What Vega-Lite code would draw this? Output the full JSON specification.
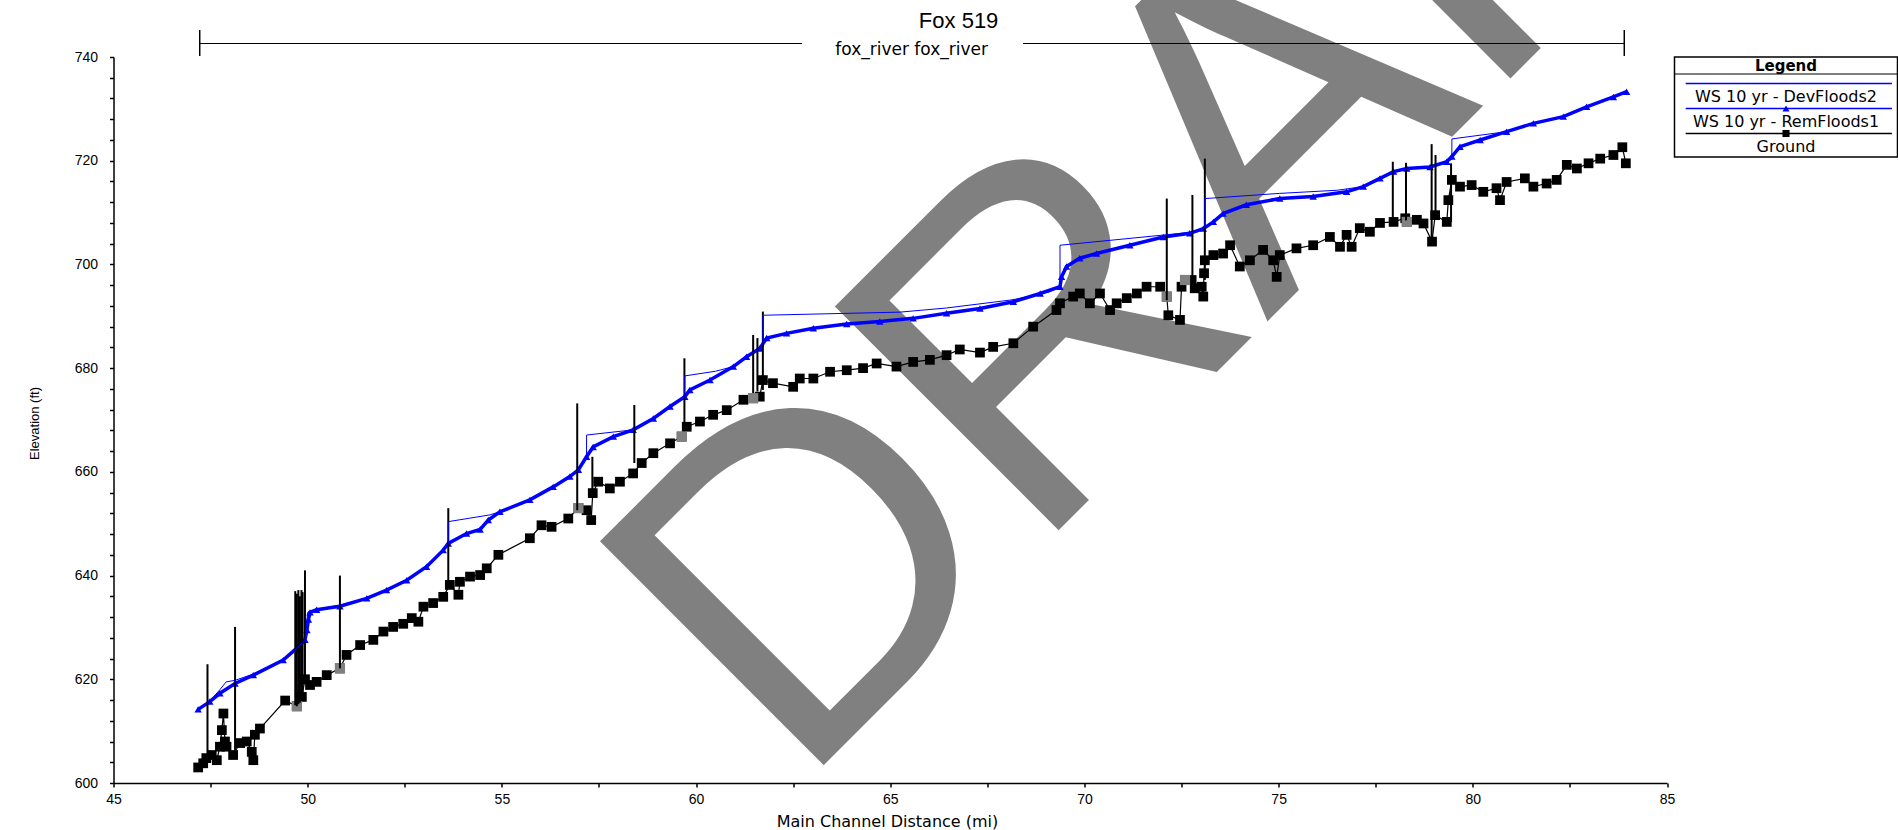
{
  "$schema": "https://vega.github.io/schema/vega-lite/v6.json",
  "autosize": {"type": "none"},
  "padding": {"left": 113.5, "top": 57, "right": 1784.5, "bottom": 773},
  "background": "white",
  "config": {"view": {"stroke": null}, "font": "Liberation Sans"},
  "spacing": 7,
  "bounds": "flush",
  "datasets": {
    "watermark": [{"mi": 62.6, "elev": 598.3, "label": "DRAFT"}],
    "titles": [
      {"mi": 66.76, "elev": 746.9, "label": "Fox 519", "kind": "title"},
      {"mi": 65.55, "elev": 741.4, "label": "fox_river fox_river", "kind": "reach"}
    ],
    "reachLine": [
      {"mi": 47.22, "mi2": 62.73, "elev": 742.6},
      {"mi": 68.42, "mi2": 83.9, "elev": 742.6}
    ],
    "reachEnds": [
      {"mi": 47.22, "elev": 740.2, "elev2": 745.2},
      {"mi": 83.9, "elev": 740.2, "elev2": 745.2}
    ],
    "structures": [
      {"mi": 47.42, "elev": 604.8, "elev2": 622.9},
      {"mi": 48.13, "elev": 605.4, "elev2": 630.1},
      {"mi": 49.68, "elev": 615.0, "elev2": 637.0},
      {"mi": 49.72, "elev": 614.8, "elev2": 636.5},
      {"mi": 49.76, "elev": 615.2, "elev2": 637.2},
      {"mi": 49.8, "elev": 615.5, "elev2": 636.0},
      {"mi": 49.84, "elev": 616.6, "elev2": 637.2},
      {"mi": 49.87, "elev": 617.5, "elev2": 636.8},
      {"mi": 49.93, "elev": 620.0, "elev2": 641.0},
      {"mi": 50.83, "elev": 622.1, "elev2": 640.0},
      {"mi": 53.62, "elev": 638.6, "elev2": 653.0},
      {"mi": 56.94, "elev": 652.6, "elev2": 673.2},
      {"mi": 57.33, "elev": 655.5, "elev2": 662.9},
      {"mi": 58.41, "elev": 661.7, "elev2": 672.9},
      {"mi": 59.7, "elev": 668.7, "elev2": 681.9},
      {"mi": 61.47, "elev": 675.2, "elev2": 686.4},
      {"mi": 61.58, "elev": 675.5, "elev2": 685.8},
      {"mi": 61.72, "elev": 675.8, "elev2": 690.9},
      {"mi": 72.12, "elev": 693.1, "elev2": 712.7},
      {"mi": 72.78, "elev": 697.0, "elev2": 713.4},
      {"mi": 73.1, "elev": 697.0, "elev2": 720.4},
      {"mi": 77.94, "elev": 708.6, "elev2": 719.8},
      {"mi": 78.28, "elev": 708.5, "elev2": 719.6},
      {"mi": 78.94, "elev": 704.4, "elev2": 723.2},
      {"mi": 79.04, "elev": 709.5, "elev2": 721.1},
      {"mi": 79.44, "elev": 708.2, "elev2": 719.5}
    ],
    "ground": [
      {"mi": 47.18, "elev": 603.0}, {"mi": 47.31, "elev": 603.8}, {"mi": 47.39, "elev": 604.8},
      {"mi": 47.53, "elev": 605.4}, {"mi": 47.66, "elev": 604.4}, {"mi": 47.74, "elev": 607.0},
      {"mi": 47.79, "elev": 610.2}, {"mi": 47.83, "elev": 613.4}, {"mi": 47.87, "elev": 608.0},
      {"mi": 47.91, "elev": 607.0}, {"mi": 48.08, "elev": 605.4}, {"mi": 48.26, "elev": 607.7},
      {"mi": 48.43, "elev": 608.0}, {"mi": 48.56, "elev": 606.0}, {"mi": 48.6, "elev": 604.4},
      {"mi": 48.64, "elev": 609.3}, {"mi": 48.77, "elev": 610.5}, {"mi": 49.42, "elev": 615.9},
      {"mi": 49.72, "elev": 614.8}, {"mi": 49.85, "elev": 616.6}, {"mi": 49.93, "elev": 620.0},
      {"mi": 50.06, "elev": 618.9}, {"mi": 50.23, "elev": 619.5}, {"mi": 50.49, "elev": 620.8},
      {"mi": 50.83, "elev": 622.1}, {"mi": 51.0, "elev": 624.7}, {"mi": 51.35, "elev": 626.6},
      {"mi": 51.69, "elev": 627.6}, {"mi": 51.95, "elev": 629.2}, {"mi": 52.2, "elev": 630.1},
      {"mi": 52.46, "elev": 630.7}, {"mi": 52.68, "elev": 631.8}, {"mi": 52.85, "elev": 631.1},
      {"mi": 52.98, "elev": 634.0}, {"mi": 53.23, "elev": 634.7}, {"mi": 53.49, "elev": 635.9},
      {"mi": 53.66, "elev": 638.2}, {"mi": 53.88, "elev": 636.3}, {"mi": 53.92, "elev": 638.8},
      {"mi": 54.18, "elev": 639.8}, {"mi": 54.44, "elev": 640.1}, {"mi": 54.61, "elev": 641.4},
      {"mi": 54.91, "elev": 644.0}, {"mi": 55.72, "elev": 647.2}, {"mi": 56.02, "elev": 649.7},
      {"mi": 56.28, "elev": 649.4}, {"mi": 56.71, "elev": 651.0}, {"mi": 56.97, "elev": 653.0},
      {"mi": 57.18, "elev": 652.6}, {"mi": 57.3, "elev": 650.7}, {"mi": 57.34, "elev": 655.9},
      {"mi": 57.48, "elev": 658.1}, {"mi": 57.78, "elev": 656.8}, {"mi": 58.04, "elev": 658.1},
      {"mi": 58.38, "elev": 659.7}, {"mi": 58.6, "elev": 661.7}, {"mi": 58.9, "elev": 663.6},
      {"mi": 59.33, "elev": 665.5}, {"mi": 59.63, "elev": 666.8}, {"mi": 59.76, "elev": 668.7},
      {"mi": 60.1, "elev": 669.7}, {"mi": 60.44, "elev": 671.0}, {"mi": 60.79, "elev": 671.9},
      {"mi": 61.22, "elev": 673.9}, {"mi": 61.47, "elev": 674.2}, {"mi": 61.64, "elev": 674.5},
      {"mi": 61.72, "elev": 677.7}, {"mi": 61.98, "elev": 677.1}, {"mi": 62.5, "elev": 676.4},
      {"mi": 62.67, "elev": 678.0}, {"mi": 63.02, "elev": 678.0}, {"mi": 63.45, "elev": 679.3},
      {"mi": 63.88, "elev": 679.6}, {"mi": 64.3, "elev": 680.0}, {"mi": 64.65, "elev": 680.9},
      {"mi": 65.16, "elev": 680.3}, {"mi": 65.59, "elev": 681.2}, {"mi": 66.02, "elev": 681.6},
      {"mi": 66.45, "elev": 682.5}, {"mi": 66.79, "elev": 683.6}, {"mi": 67.31, "elev": 683.0},
      {"mi": 67.65, "elev": 684.1}, {"mi": 68.17, "elev": 684.8}, {"mi": 68.68, "elev": 688.0},
      {"mi": 69.28, "elev": 691.2}, {"mi": 69.37, "elev": 692.5}, {"mi": 69.71, "elev": 693.8},
      {"mi": 69.88, "elev": 694.4}, {"mi": 70.14, "elev": 692.5}, {"mi": 70.4, "elev": 694.4},
      {"mi": 70.66, "elev": 691.2}, {"mi": 70.83, "elev": 692.5}, {"mi": 71.09, "elev": 693.5},
      {"mi": 71.35, "elev": 694.4}, {"mi": 71.6, "elev": 695.7}, {"mi": 71.95, "elev": 695.7},
      {"mi": 72.12, "elev": 693.8}, {"mi": 72.16, "elev": 690.2}, {"mi": 72.46, "elev": 689.3},
      {"mi": 72.5, "elev": 695.7}, {"mi": 72.59, "elev": 697.0}, {"mi": 72.76, "elev": 697.0},
      {"mi": 72.84, "elev": 695.4}, {"mi": 73.02, "elev": 695.7}, {"mi": 73.06, "elev": 693.8},
      {"mi": 73.08, "elev": 698.3}, {"mi": 73.1, "elev": 700.8}, {"mi": 73.32, "elev": 701.8},
      {"mi": 73.57, "elev": 702.1}, {"mi": 73.75, "elev": 703.7}, {"mi": 74.0, "elev": 699.6},
      {"mi": 74.26, "elev": 700.8}, {"mi": 74.6, "elev": 702.8}, {"mi": 74.86, "elev": 700.8},
      {"mi": 74.95, "elev": 697.6}, {"mi": 75.03, "elev": 701.8}, {"mi": 75.46, "elev": 703.1},
      {"mi": 75.89, "elev": 703.7}, {"mi": 76.32, "elev": 705.3}, {"mi": 76.58, "elev": 703.4},
      {"mi": 76.75, "elev": 705.7}, {"mi": 76.88, "elev": 703.4}, {"mi": 77.09, "elev": 707.0},
      {"mi": 77.35, "elev": 706.3}, {"mi": 77.61, "elev": 708.0}, {"mi": 77.96, "elev": 708.2},
      {"mi": 78.26, "elev": 708.9}, {"mi": 78.3, "elev": 708.2}, {"mi": 78.56, "elev": 708.6},
      {"mi": 78.73, "elev": 707.9}, {"mi": 78.95, "elev": 704.4}, {"mi": 79.03, "elev": 709.5},
      {"mi": 79.33, "elev": 708.2}, {"mi": 79.37, "elev": 712.4}, {"mi": 79.46, "elev": 716.3},
      {"mi": 79.67, "elev": 715.0}, {"mi": 79.97, "elev": 715.3}, {"mi": 80.27, "elev": 714.0},
      {"mi": 80.61, "elev": 714.7}, {"mi": 80.7, "elev": 712.4}, {"mi": 80.87, "elev": 715.9},
      {"mi": 81.34, "elev": 716.6}, {"mi": 81.56, "elev": 715.0}, {"mi": 81.9, "elev": 715.6},
      {"mi": 82.16, "elev": 716.3}, {"mi": 82.42, "elev": 719.2}, {"mi": 82.68, "elev": 718.5},
      {"mi": 82.98, "elev": 719.5}, {"mi": 83.28, "elev": 720.4}, {"mi": 83.62, "elev": 721.1},
      {"mi": 83.85, "elev": 722.6}, {"mi": 83.94, "elev": 719.5}
    ],
    "grey": [
      {"mi": 49.72, "elev": 614.8}, {"mi": 50.83, "elev": 622.1}, {"mi": 56.97, "elev": 653.0},
      {"mi": 59.63, "elev": 666.8}, {"mi": 61.47, "elev": 674.2}, {"mi": 72.12, "elev": 693.8},
      {"mi": 72.59, "elev": 697.0}, {"mi": 78.3, "elev": 708.2}
    ],
    "rem": [
      {"mi": 47.18, "elev": 614.2}, {"mi": 47.48, "elev": 615.7}, {"mi": 47.74, "elev": 617.3},
      {"mi": 48.13, "elev": 619.2}, {"mi": 48.6, "elev": 620.8}, {"mi": 49.37, "elev": 623.7},
      {"mi": 49.72, "elev": 626.0}, {"mi": 49.93, "elev": 627.6}, {"mi": 49.98, "elev": 629.5},
      {"mi": 50.02, "elev": 631.5}, {"mi": 50.06, "elev": 632.9}, {"mi": 50.23, "elev": 633.4},
      {"mi": 50.83, "elev": 634.1}, {"mi": 51.52, "elev": 635.6}, {"mi": 52.03, "elev": 637.2},
      {"mi": 52.55, "elev": 639.1}, {"mi": 53.06, "elev": 641.7}, {"mi": 53.49, "elev": 644.9},
      {"mi": 53.62, "elev": 646.2}, {"mi": 54.09, "elev": 648.1}, {"mi": 54.44, "elev": 648.9},
      {"mi": 54.65, "elev": 650.7}, {"mi": 54.95, "elev": 652.3}, {"mi": 55.72, "elev": 654.6},
      {"mi": 56.32, "elev": 657.1}, {"mi": 56.75, "elev": 659.1}, {"mi": 56.97, "elev": 660.4},
      {"mi": 57.18, "elev": 662.9}, {"mi": 57.35, "elev": 664.8}, {"mi": 57.87, "elev": 666.8},
      {"mi": 58.38, "elev": 668.1}, {"mi": 58.9, "elev": 670.3}, {"mi": 59.33, "elev": 672.6},
      {"mi": 59.71, "elev": 674.5}, {"mi": 59.84, "elev": 675.8}, {"mi": 60.36, "elev": 677.7},
      {"mi": 60.96, "elev": 680.3}, {"mi": 61.3, "elev": 682.2}, {"mi": 61.64, "elev": 683.8},
      {"mi": 61.82, "elev": 685.8}, {"mi": 62.33, "elev": 686.7}, {"mi": 63.02, "elev": 687.7},
      {"mi": 63.88, "elev": 688.5}, {"mi": 64.73, "elev": 689.0}, {"mi": 65.59, "elev": 689.6},
      {"mi": 66.45, "elev": 690.6}, {"mi": 67.31, "elev": 691.5}, {"mi": 68.17, "elev": 692.8},
      {"mi": 68.86, "elev": 694.4}, {"mi": 69.37, "elev": 695.7}, {"mi": 69.41, "elev": 697.6},
      {"mi": 69.54, "elev": 699.6}, {"mi": 69.88, "elev": 701.2}, {"mi": 70.31, "elev": 702.1},
      {"mi": 71.17, "elev": 703.7}, {"mi": 72.03, "elev": 705.3}, {"mi": 72.71, "elev": 706.0},
      {"mi": 73.06, "elev": 706.9}, {"mi": 73.32, "elev": 708.2}, {"mi": 73.57, "elev": 709.8},
      {"mi": 74.17, "elev": 711.5}, {"mi": 75.03, "elev": 712.7}, {"mi": 75.89, "elev": 713.1},
      {"mi": 76.75, "elev": 714.0}, {"mi": 77.18, "elev": 715.0}, {"mi": 77.61, "elev": 716.6},
      {"mi": 77.96, "elev": 717.9}, {"mi": 78.3, "elev": 718.5}, {"mi": 78.9, "elev": 718.8},
      {"mi": 79.33, "elev": 719.8}, {"mi": 79.46, "elev": 720.8}, {"mi": 79.67, "elev": 722.7},
      {"mi": 80.19, "elev": 724.0}, {"mi": 80.87, "elev": 725.6}, {"mi": 81.56, "elev": 727.2},
      {"mi": 82.33, "elev": 728.5}, {"mi": 82.93, "elev": 730.4}, {"mi": 83.62, "elev": 732.3},
      {"mi": 83.96, "elev": 733.3}
    ],
    "dev": [
      {"mi": 47.18, "elev": 614.2}, {"mi": 47.48, "elev": 615.8}, {"mi": 47.74, "elev": 618.0},
      {"mi": 47.9, "elev": 619.5}, {"mi": 48.13, "elev": 619.8}, {"mi": 48.6, "elev": 621.0},
      {"mi": 49.37, "elev": 623.7}, {"mi": 49.72, "elev": 626.0}, {"mi": 49.93, "elev": 627.6},
      {"mi": 50.0, "elev": 632.9}, {"mi": 50.23, "elev": 633.5}, {"mi": 50.83, "elev": 634.3},
      {"mi": 51.52, "elev": 635.6}, {"mi": 52.03, "elev": 637.2}, {"mi": 52.55, "elev": 639.1},
      {"mi": 53.06, "elev": 641.7}, {"mi": 53.49, "elev": 644.9}, {"mi": 53.62, "elev": 646.2},
      {"mi": 53.621, "elev": 650.4}, {"mi": 54.69, "elev": 651.7}, {"mi": 54.95, "elev": 652.3},
      {"mi": 55.72, "elev": 654.6}, {"mi": 56.32, "elev": 657.1}, {"mi": 56.75, "elev": 659.1},
      {"mi": 56.97, "elev": 660.4}, {"mi": 57.18, "elev": 662.9}, {"mi": 57.181, "elev": 667.1},
      {"mi": 58.38, "elev": 668.1}, {"mi": 58.9, "elev": 670.3}, {"mi": 59.33, "elev": 672.6},
      {"mi": 59.71, "elev": 674.5}, {"mi": 59.711, "elev": 678.5}, {"mi": 60.5, "elev": 679.4},
      {"mi": 60.96, "elev": 680.3}, {"mi": 61.3, "elev": 682.2}, {"mi": 61.64, "elev": 683.8},
      {"mi": 61.72, "elev": 684.8}, {"mi": 61.721, "elev": 690.2}, {"mi": 65.25, "elev": 690.8},
      {"mi": 66.45, "elev": 691.6}, {"mi": 68.17, "elev": 693.2}, {"mi": 69.1, "elev": 694.7},
      {"mi": 69.37, "elev": 695.7}, {"mi": 69.371, "elev": 703.7}, {"mi": 72.9, "elev": 706.3},
      {"mi": 73.06, "elev": 706.9}, {"mi": 73.1, "elev": 707.2}, {"mi": 73.101, "elev": 712.7},
      {"mi": 75.03, "elev": 713.7}, {"mi": 76.5, "elev": 714.3}, {"mi": 77.18, "elev": 715.0},
      {"mi": 77.61, "elev": 716.6}, {"mi": 77.96, "elev": 717.9}, {"mi": 78.3, "elev": 718.5},
      {"mi": 78.9, "elev": 718.8}, {"mi": 79.33, "elev": 719.8}, {"mi": 79.46, "elev": 720.3},
      {"mi": 79.461, "elev": 724.2}, {"mi": 80.87, "elev": 725.6}, {"mi": 81.56, "elev": 727.2},
      {"mi": 82.33, "elev": 728.5}, {"mi": 82.93, "elev": 730.4}, {"mi": 83.62, "elev": 732.3},
      {"mi": 83.96, "elev": 733.3}
    ],
    "legend": [
      {"entry": "Legend"},
      {"entry": "WS 10 yr - DevFloods2"},
      {"entry": "WS 10 yr - RemFloods1"},
      {"entry": "Ground"}
    ]
  },
  "hconcat": [
    {
      "width": 1553.5,
      "height": 726,
      "encoding": {
        "x": {
          "field": "mi", "type": "quantitative",
          "scale": {"domain": [45, 85], "nice": false, "zero": false},
          "title": "Main Channel Distance (mi)",
          "axis": {
            "values": [45, 47.5, 50, 52.5, 55, 57.5, 60, 62.5, 65, 67.5, 70, 72.5, 75, 77.5, 80, 82.5, 85],
            "labelExpr": "datum.value % 5 === 0 ? datum.label : ''",
            "grid": false, "tickSize": 4, "tickWidth": 1.5, "tickColor": "black",
            "domainColor": "black", "domainWidth": 1.5,
            "labelFont": "Liberation Sans", "labelFontSize": 14, "labelColor": "black",
            "labelPadding": 5, "labelOverlap": false, "labelFlush": false,
            "titleFont": "DejaVu Sans", "titleFontSize": 16, "titleFontWeight": "normal", "titleColor": "black",
            "titleX": 773.5, "titleY": 38, "titleBaseline": "middle"
          }
        },
        "y": {
          "field": "elev", "type": "quantitative",
          "scale": {"domain": [600, 740], "nice": false, "zero": false},
          "title": "Elevation (ft)",
          "axis": {
            "values": [600, 604, 608, 612, 616, 620, 624, 628, 632, 636, 640, 644, 648, 652, 656, 660, 664, 668, 672, 676, 680, 684, 688, 692, 696, 700, 704, 708, 712, 716, 720, 724, 728, 732, 736, 740],
            "labelExpr": "datum.value % 20 === 0 ? datum.label : ''",
            "grid": false, "tickSize": 4, "tickWidth": 1.5, "tickColor": "black",
            "domainColor": "black", "domainWidth": 1.5,
            "labelFont": "Liberation Sans", "labelFontSize": 14, "labelColor": "black",
            "labelPadding": 12, "labelOverlap": false, "labelFlush": false,
            "titleFont": "Liberation Sans", "titleFontSize": 13, "titleFontWeight": "normal", "titleColor": "black",
            "titleX": -79.5, "titleY": 366, "titleBaseline": "middle", "titleAngle": -90
          }
        }
      },
      "layer": [
        {
          "data": {"name": "watermark"},
          "mark": {"type": "text", "angle": -45, "fontSize": 460, "font": "Liberation Sans", "color": "#808080", "align": "left", "baseline": "alphabetic"},
          "encoding": {"text": {"field": "label"}}
        },
        {
          "data": {"name": "reachLine"},
          "mark": {"type": "rule", "color": "black", "strokeWidth": 1.2},
          "encoding": {"x2": {"field": "mi2"}}
        },
        {
          "data": {"name": "reachEnds"},
          "mark": {"type": "rule", "color": "black", "strokeWidth": 1.5},
          "encoding": {"y2": {"field": "elev2"}}
        },
        {
          "data": {"name": "titles"},
          "transform": [{"filter": "datum.kind === 'title'"}],
          "mark": {"type": "text", "font": "Liberation Sans", "fontSize": 22, "color": "black", "baseline": "middle", "align": "center"},
          "encoding": {"text": {"field": "label"}}
        },
        {
          "data": {"name": "titles"},
          "transform": [{"filter": "datum.kind === 'reach'"}],
          "mark": {"type": "text", "font": "DejaVu Sans", "fontSize": 17, "color": "black", "baseline": "middle", "align": "center"},
          "encoding": {"text": {"field": "label"}}
        },
        {
          "data": {"name": "ground"},
          "mark": {"type": "line", "color": "black", "strokeWidth": 1.2}
        },
        {
          "data": {"name": "ground"},
          "mark": {"type": "point", "shape": "square", "filled": true, "color": "black", "size": 95, "opacity": 1}
        },
        {
          "data": {"name": "grey"},
          "mark": {"type": "point", "shape": "square", "filled": true, "color": "#808080", "size": 105, "opacity": 1}
        },
        {
          "data": {"name": "rem"},
          "mark": {"type": "line", "color": "#0000ff", "strokeWidth": 3.5}
        },
        {
          "data": {"name": "rem"},
          "mark": {"type": "point", "shape": "triangle-up", "filled": true, "color": "#0000ff", "size": 55, "opacity": 1}
        },
        {
          "data": {"name": "structures"},
          "mark": {"type": "rule", "color": "black", "strokeWidth": 2},
          "encoding": {"y2": {"field": "elev2"}}
        },
        {
          "data": {"name": "dev"},
          "mark": {"type": "line", "color": "#0000ff", "strokeWidth": 1}
        }
      ]
    },
    {
      "width": 223,
      "height": 100,
      "view": {"stroke": "black", "strokeWidth": 1.5, "fill": "white"},
      "data": {"name": "legend"},
      "encoding": {
        "y": {
          "field": "entry", "type": "nominal", "bandPosition": 0.5,
          "scale": {"domain": ["Legend", "WS 10 yr - DevFloods2", "WS 10 yr - RemFloods1", "Ground"], "range": [-4, 96], "paddingInner": 0, "paddingOuter": 0},
          "axis": null
        }
      },
      "layer": [
        {
          "transform": [{"filter": "datum.entry === 'Legend'"}],
          "mark": {"type": "text", "font": "DejaVu Sans", "fontSize": 15, "fontWeight": "bold", "color": "black", "baseline": "middle", "align": "center"},
          "encoding": {"text": {"field": "entry"}}
        },
        {
          "transform": [{"filter": "datum.entry === 'Legend'"}],
          "mark": {"type": "rule", "color": "black", "strokeWidth": 1.2, "yOffset": 8.5},
          "encoding": {}
        },
        {
          "transform": [{"filter": "datum.entry !== 'Legend'"}],
          "mark": {"type": "rule", "strokeWidth": 1.5, "yOffset": -7},
          "encoding": {
            "x": {"datum": 0.05, "type": "quantitative", "scale": {"domain": [0, 1], "nice": false, "zero": false}, "axis": null},
            "x2": {"datum": 0.975},
            "color": {"field": "entry", "type": "nominal", "scale": {"domain": ["WS 10 yr - DevFloods2", "WS 10 yr - RemFloods1", "Ground"], "range": ["#0000ff", "#0000ff", "#000000"]}, "legend": null}
          }
        },
        {
          "transform": [{"filter": "datum.entry === 'WS 10 yr - RemFloods1' || datum.entry === 'Ground'"}],
          "mark": {"type": "point", "filled": true, "size": 50, "opacity": 1, "yOffset": -7},
          "encoding": {
            "shape": {"field": "entry", "type": "nominal", "scale": {"domain": ["WS 10 yr - RemFloods1", "Ground"], "range": ["triangle-up", "square"]}, "legend": null},
            "color": {"field": "entry", "type": "nominal", "scale": {"domain": ["WS 10 yr - DevFloods2", "WS 10 yr - RemFloods1", "Ground"], "range": ["#0000ff", "#0000ff", "#000000"]}, "legend": null}
          }
        },
        {
          "transform": [{"filter": "datum.entry !== 'Legend'"}],
          "mark": {"type": "text", "font": "DejaVu Sans", "fontSize": 16, "color": "black", "baseline": "middle", "align": "center", "yOffset": 6.5},
          "encoding": {"text": {"field": "entry"}}
        }
      ]
    }
  ]
}
